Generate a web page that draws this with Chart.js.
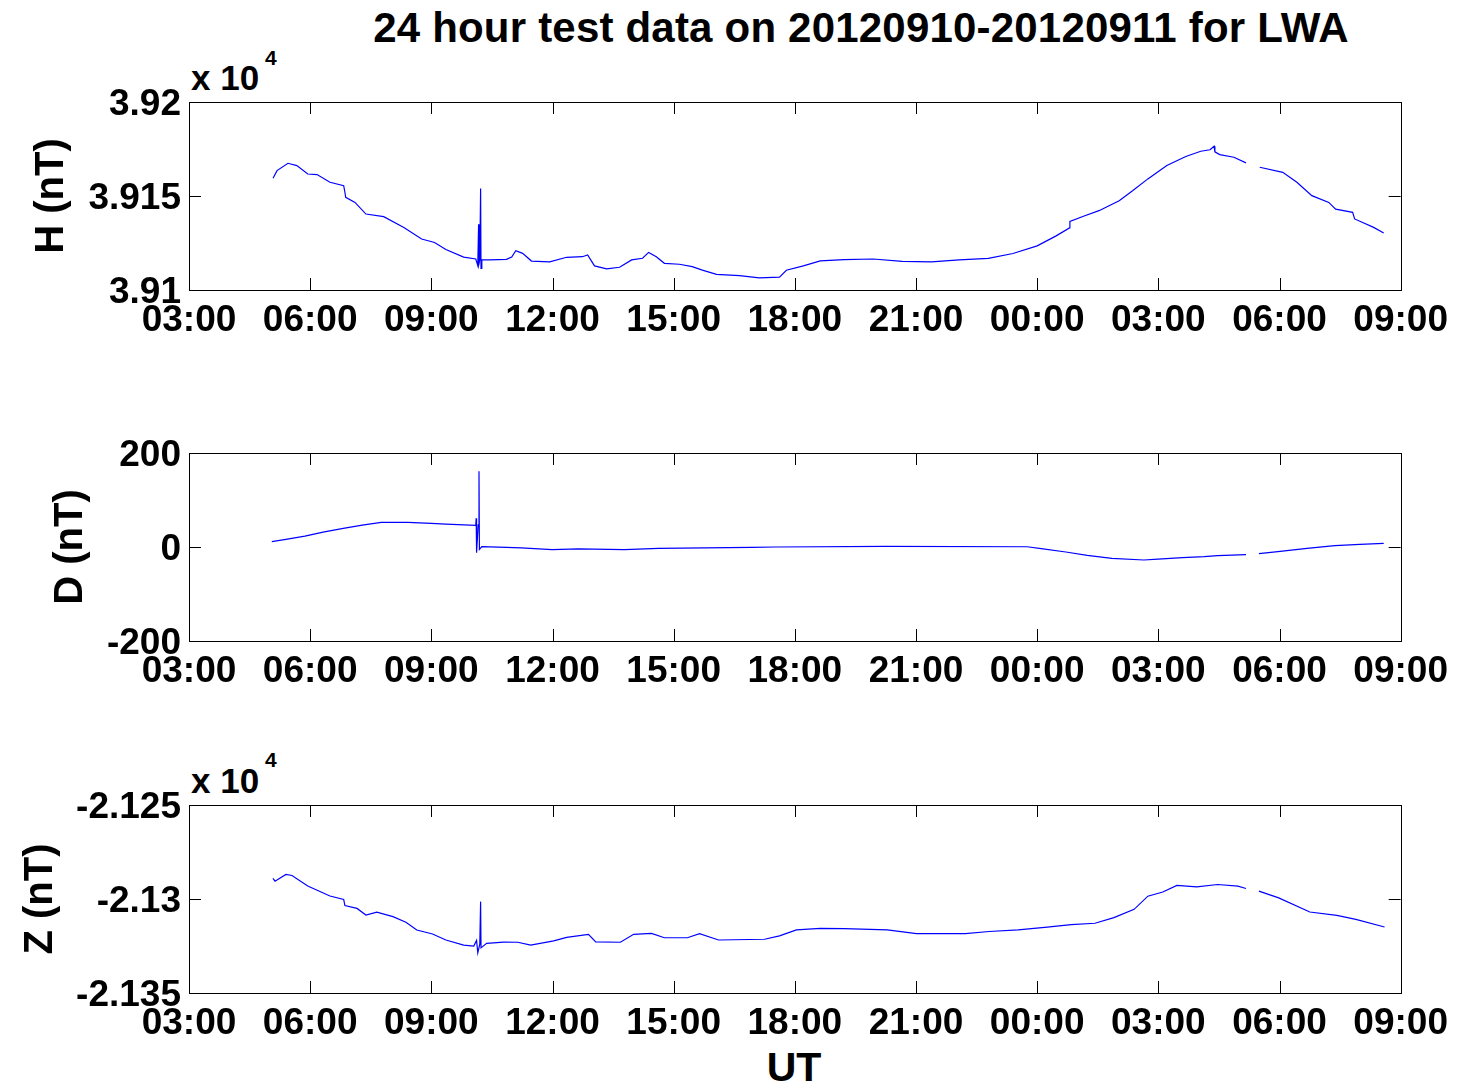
<!DOCTYPE html>
<html>
<head>
<meta charset="utf-8">
<script src="https://cdn.jsdelivr.net/npm/chart.js@4"></script>
<style>
  html, body { margin: 0; padding: 0; background: #fff; }
  body { width: 1457px; height: 1086px; position: relative; overflow: hidden;
         font-family: "Liberation Sans", Arial, Helvetica, sans-serif; color: #000; }
  canvas { position: absolute; left: 0; }
  .txt { position: absolute; white-space: nowrap; font-weight: bold; }
</style>
</head>
<body>
<div class="txt" id="title" style="left:0;width:1722px;text-align:center;top:7px;font-size:42px;line-height:42px;letter-spacing:0.2px;">24 hour test data on 20120910-20120911 for LWA</div>
<div class="txt" style="left:191px;top:60px;font-size:35px;line-height:35px;">x 10</div>
<div class="txt" style="left:265px;top:47px;font-size:21px;line-height:21px;">4</div>
<div class="txt" style="left:191px;top:763px;font-size:35px;line-height:35px;">x 10</div>
<div class="txt" style="left:265px;top:749px;font-size:21px;line-height:21px;">4</div>
<div class="txt" style="left:0;width:1588px;text-align:center;top:1047px;font-size:41px;line-height:41px;">UT</div>

<canvas id="cH" width="1457" height="360" style="top:0px"></canvas>
<canvas id="cD" width="1457" height="360" style="top:360px"></canvas>
<canvas id="cZ" width="1457" height="366" style="top:720px"></canvas>

<script>
// ---- data (hours since 03:00 UT on 2012-09-10) ----
const xTickLabels = ['03:00','06:00','09:00','12:00','15:00','18:00','21:00','00:00','03:00','06:00','09:00'];

const hTime = [2.08,2.18,2.45,2.67,2.94,3.17,3.49,3.83,3.86,3.88,4.11,4.38,4.82,5.32,5.76,6.08,6.36,6.80,7.10,7.15,7.17,7.18,7.20,7.22,7.23,7.25,7.44,7.86,7.99,8.09,8.26,8.48,8.93,9.35,9.74,9.87,10.04,10.34,10.66,10.96,11.23,11.38,11.57,11.77,12.14,12.46,12.71,13.06,13.63,14.12,14.62,14.79,15.21,15.63,16.22,16.94,17.66,18.38,19.07,19.79,20.40,21.00,21.47,21.80,21.81,22.18,22.53,23.03,23.37,23.74,24.21,24.68,25.05,25.28,25.38,25.40,25.52,25.87,26.17,26.30,26.51,27.08,27.43,27.80,28.22,28.39,28.81,28.86,29.33,29.58];
const hVals = [39159.4,39163.5,39167.4,39166.2,39161.7,39161.4,39157.3,39155.5,39152,39149.3,39146.6,39140.4,39139,39133.3,39127.1,39125.3,39121.5,39117.5,39116.5,39113,39135,39114,39116,39154,39111.5,39116,39116,39116.3,39117.5,39120.9,39119.5,39115.4,39115,39117.4,39117.7,39118.6,39112.8,39111.2,39112.1,39116,39116.9,39120,39117.7,39114.2,39113.7,39112.4,39110.6,39108.3,39107.6,39106.5,39106.8,39110.5,39112.8,39115.5,39116.2,39116.5,39115.2,39115,39116,39116.8,39119.4,39123.5,39128.8,39133,39136.5,39139.5,39142.2,39147.5,39152.9,39159.1,39166.2,39171,39173.8,39174.6,39176.5,39173.5,39172,39170.6,39167.6,null,39165.3,39162.6,39157.3,39150.2,39146.6,39143,39141.3,39137.8,39133.3,39130.3];

const dTime = [2.05,2.40,2.87,3.35,3.82,4.29,4.76,5.42,6.00,6.36,7.10,7.11,7.12,7.16,7.18,7.19,7.25,7.86,8.23,8.99,9.64,10.78,11.62,13.92,14.52,17.24,20.75,21.10,21.71,22.24,22.85,23.64,23.99,24.60,25.13,25.47,26.17,26.30,26.49,26.96,27.68,28.37,28.99,29.58];
const dVals = [11.3,16.2,23.2,32.3,39.6,46.6,52.3,52.3,50.2,48.7,46,61,-12,47,161,-5,0.6,-0.9,-2,-5.7,-4,-5.7,-3,-0.9,0,1.5,0.5,-3.6,-10.6,-17.9,-24.3,-27.7,-26,-22.8,-20.6,-18.5,-16.4,null,-14.3,-10,-3,2.8,5.5,7.7];

const zTime = [2.08,2.13,2.40,2.55,2.94,3.49,3.83,3.86,4.16,4.38,4.65,5.05,5.37,5.64,6.03,6.36,6.80,7.05,7.12,7.15,7.20,7.22,7.23,7.37,7.79,8.14,8.46,9.03,9.35,9.89,10.07,10.68,11.01,11.45,11.77,12.34,12.64,13.11,14.25,14.62,15.04,15.63,16.22,17.29,18.01,19.22,19.81,20.53,21.25,21.84,22.43,22.90,23.40,23.74,24.11,24.46,24.95,25.47,25.97,26.17,26.30,26.49,26.98,27.75,28.42,28.89,29.60];
const zVals = [-21289,-21290.5,-21286.9,-21287.5,-21293.1,-21298.4,-21300.2,-21303.5,-21305,-21308.5,-21307,-21309.4,-21312.4,-21316.5,-21318.6,-21321.8,-21324.5,-21325,-21322,-21328.6,-21324,-21301.4,-21326,-21323.6,-21322.9,-21323,-21324.5,-21322.3,-21320.4,-21318.8,-21322.8,-21323,-21318.8,-21318.3,-21320.6,-21320.6,-21318.4,-21321.8,-21321.4,-21319.6,-21316.4,-21315.6,-21315.8,-21316.4,-21318.4,-21318.4,-21317.3,-21316.4,-21315,-21313.6,-21312.9,-21309.9,-21305.5,-21298.5,-21296.3,-21292.8,-21293.5,-21292.3,-21293.2,-21294.4,null,-21295.8,-21299.4,-21306.9,-21308.7,-21310.8,-21314.9];

const hTickLabels = ['3.91','3.915','3.92'];
const dTickLabels = ['-200','0','200'];
const zTickLabels = ['-2.135','-2.13','-2.125'];

// ---- drawing ----
const FONT = '"Liberation Sans", Arial, Helvetica, sans-serif';

const boxTicks = {
  id: 'boxTicks',
  afterDatasetsDraw(chart) {
    const ctx = chart.ctx, a = chart.chartArea;
    const xs = chart.scales.x, ys = chart.scales.y;
    const L = 12;
    ctx.save();
    ctx.strokeStyle = '#000';
    ctx.lineWidth = 1;
    ctx.beginPath();
    xs.ticks.forEach(t => {
      const px = Math.round(xs.getPixelForValue(t.value)) + 0.5;
      ctx.moveTo(px, a.top); ctx.lineTo(px, a.top + L);
      ctx.moveTo(px, a.bottom); ctx.lineTo(px, a.bottom - L);
    });
    ys.ticks.forEach(t => {
      const py = Math.round(ys.getPixelForValue(t.value)) + 0.5;
      ctx.moveTo(a.left, py); ctx.lineTo(a.left + L, py);
      ctx.moveTo(a.right, py); ctx.lineTo(a.right - L, py);
    });
    ctx.stroke();
    ctx.strokeRect(Math.round(a.left) + 0.5, Math.round(a.top) + 0.5,
                   Math.round(a.right - a.left), Math.round(a.bottom - a.top));
    ctx.restore();
  }
};

function makePanel(id, times, vals, yMin, yMax, yStep, yLabels, yTitle, titlePad, pad) {
  const pts = times.map((t, i) => ({ x: t, y: vals[i] }));
  return new Chart(document.getElementById(id), {
    type: 'line',
    data: { datasets: [{ data: pts, borderColor: '#0000ff', borderWidth: 1.2,
                         pointRadius: 0, tension: 0, spanGaps: false, fill: false }] },
    options: {
      responsive: false, animation: false, devicePixelRatio: 1,
      layout: { padding: pad },
      plugins: { legend: { display: false }, tooltip: { enabled: false }, title: { display: false } },
      scales: {
        x: {
          type: 'linear', min: 0, max: 30,
          grid: { display: false, drawTicks: false },
          border: { display: false },
          afterFit: s => { s.height = 60; },
          ticks: {
            stepSize: 3, autoSkip: false, maxRotation: 0, minRotation: 0, padding: 9,
            color: '#000', font: { family: FONT, size: 37, weight: 'bold' },
            callback: (v, i) => xTickLabels[i]
          }
        },
        y: {
          type: 'linear', min: yMin, max: yMax,
          grid: { display: false, drawTicks: false },
          border: { display: false },
          afterFit: s => { s.width = 189; },
          ticks: {
            stepSize: yStep, padding: 8, labelOffset: 2.5,
            color: '#000', font: { family: FONT, size: 37, weight: 'bold' },
            callback: (v, i) => yLabels[i]
          },
          title: {
            display: true, text: yTitle, color: '#000',
            font: { family: FONT, size: 40, weight: 'bold' },
            padding: { top: titlePad, bottom: 0 }
          }
        }
      }
    },
    plugins: [boxTicks]
  });
}

makePanel('cH', hTime, hVals, 39100, 39200, 50, hTickLabels, 'H (nT)', 28,
          { left: 0, right: 55, top: 102, bottom: 10 });
makePanel('cD', dTime, dVals, -200, 200, 200, dTickLabels, 'D (nT)', 47,
          { left: 0, right: 55, top: 93, bottom: 19 });
makePanel('cZ', zTime, zVals, -21350, -21250, 50, zTickLabels, 'Z (nT)', 17,
          { left: 0, right: 55, top: 85, bottom: 33 });
</script>
</body>
</html>
